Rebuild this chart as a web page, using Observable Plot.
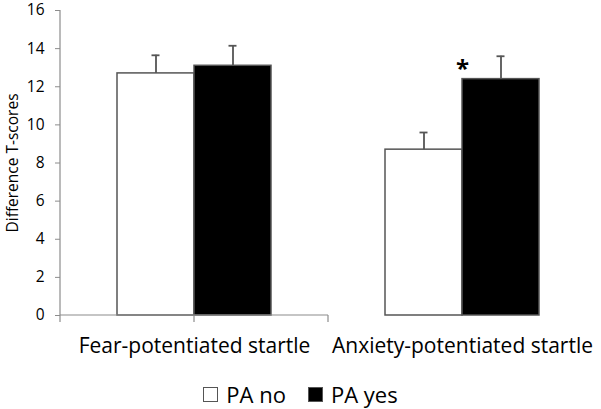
<!DOCTYPE html>
<html><head><meta charset="utf-8">
<script src="https://cdn.jsdelivr.net/npm/d3@7"></script>
<script src="https://cdn.jsdelivr.net/npm/@observablehq/plot@0.6"></script>
<style>
body{margin:0;background:#fff;font-family:"Open Sans",sans-serif;color:#000}
#chart svg{display:block}
#legend{height:44px;display:flex;justify-content:center;align-items:center;gap:22px;font-size:22px;padding-top:14px;box-sizing:border-box;line-height:1}
#legend .item{display:flex;align-items:center;gap:8px}
#legend .sw{width:15px;height:15px;border:1px solid #555;box-sizing:border-box}
</style>
</head><body>
<div id="chart"></div>
<div id="legend"></div>
<script>
const categories = ["Fear-potentiated startle", "Anxiety-potentiated startle"];
const groups = ["PA no", "PA yes"];
const groupFills = ["white", "black"];
const paNo = [12.7, 8.7];
const paYes = [13.1, 12.4];
const errNo = [0.95, 0.9];
const errYes = [1.05, 1.2];
const yTicks = [0, 2, 4, 6, 8, 10, 12, 14, 16];
const stars = [{category: categories[1], group: "PA yes", y: 13.1, label: "*"}];

const rows = categories.flatMap((c, i) => [
  {category: c, group: groups[0], value: paNo[i], upper: paNo[i] + errNo[i]},
  {category: c, group: groups[1], value: paYes[i], upper: paYes[i] + errYes[i]}
]);

let axisCalls = 0;
const axesLines = (index, scales, values, dims) => {
  const first = (index && index.fx !== undefined) ? index.fx === categories[0] : (axisCalls++ === 0);
  if (!first) return null;
  const {width, marginLeft, marginRight} = dims;
  const y0 = scales.y(0), yTop = scales.y(16);
  const g = d3.create("svg:g").attr("stroke", "#8c8c8c").attr("stroke-width", 1.2);
  g.append("line").attr("x1", marginLeft).attr("x2", marginLeft).attr("y1", yTop).attr("y2", y0 + 7);
  g.append("line").attr("x1", marginLeft).attr("x2", width - marginRight).attr("y1", y0).attr("y2", y0);
  const n = categories.length, w = (width - marginLeft - marginRight) / n;
  for (let i = 1; i <= n; i++) {
    const x = marginLeft + i * w;
    g.append("line").attr("x1", x).attr("x2", x).attr("y1", y0).attr("y2", y0 + 7);
  }
  return g.node();
};

const chart = Plot.plot({
  width: 601,
  height: 365,
  marginLeft: 60,
  marginRight: 5,
  marginTop: 10,
  marginBottom: 50,
  style: {fontFamily: "'Open Sans', sans-serif", fontSize: "16px", color: "black", background: "white", overflow: "visible"},
  fx: {domain: categories, padding: 0, label: null},
  x: {domain: groups, paddingInner: 0, paddingOuter: 0.74, axis: null},
  y: {domain: [0, 16], axis: null},
  color: {domain: groups, range: groupFills},
  marks: [
    Plot.axisY({ticks: yTicks, tickSize: 5, tickPadding: 11, stroke: "#8c8c8c", fill: "black", fontSize: 15.5,
      label: null}),
    Plot.axisY({ticks: [], tickSize: 0, label: "Difference T-scores", labelAnchor: "center", labelArrow: "none",
      labelOffset: 54, fontSize: 15.5, fill: "black"}),
    Plot.axisFx({anchor: "bottom", tickSize: 0, tickPadding: 23, fontSize: 21, label: null, fill: "black"}),
    Plot.barY(rows, {fx: "category", x: "group", y: "value", fill: "group", stroke: "#555", strokeWidth: 1.5}),
    Plot.ruleX(rows, {fx: "category", x: "group", y1: "value", y2: "upper", stroke: "#555", strokeWidth: 1.8}),
    Plot.tickY(rows, {fx: "category", x: "group", y: "upper", stroke: "#555", strokeWidth: 1.8, insetLeft: 34.5, insetRight: 34.5}),
    Plot.text(stars, {fx: "category", x: "group", y: "y", text: "label", dx: -38.5, dy: 4, fontSize: 24, fontWeight: "bold"}),
    axesLines
  ]
});
document.getElementById("chart").append(chart);

const legend = d3.select("#legend");
groups.forEach((gname, i) => {
  const item = legend.append("div").attr("class", "item");
  item.append("div").attr("class", "sw").style("background", groupFills[i]);
  item.append("span").text(gname);
});
</script>
</body></html>
